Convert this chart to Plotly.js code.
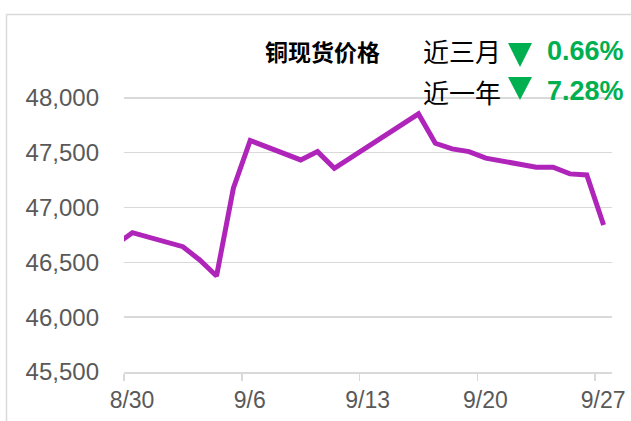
<!DOCTYPE html>
<html>
<head>
<meta charset="utf-8">
<script src="https://cdn.plot.ly/plotly-3.0.1.min.js"></script>
<style>html,body{margin:0;padding:0;background:#fff;}#chart{width:631px;height:421px;}</style>
</head>
<body>
<div id="chart"></div>
<script>
// ---- data ----
var dates = ['2024-08-29','2024-08-30','2024-09-02','2024-09-03','2024-09-04','2024-09-05','2024-09-06',
             '2024-09-09','2024-09-10','2024-09-11','2024-09-16','2024-09-17','2024-09-18','2024-09-19',
             '2024-09-20','2024-09-23','2024-09-24','2024-09-25','2024-09-26','2024-09-27'];
var prices = [46660, 46771, 46643, 46522, 46376, 47176, 47611,
              47434, 47510, 47358, 47854, 47586, 47535, 47510,
              47450, 47368, 47368, 47307, 47297, 46841];
var tickDates = ['2024-08-30','2024-09-06','2024-09-13','2024-09-20','2024-09-27'];
var tickLabels = ['8/30','9/6','9/13','9/20','9/27'];
var yTicks = [45500, 46000, 46500, 47000, 47500, 48000];
var titleText = '铜现货价格';
var statLabels = ['近三月','近一年'];
var statValues = ['0.66%','7.28%'];

// ---- layout helpers (pixel -> paper) ----
var L = 124, R = 612, T = 65, B = 372, W = 631, H = 421;
function px(x){ return (x - L) / (R - L); }
function py(y){ return (B - y) / (B - T); }
function shiftHours(d, h){ var t = new Date(d + 'T00:00:00Z'); t.setUTCHours(t.getUTCHours() + h);
  var s = t.toISOString(); return s.slice(0,10) + ' ' + s.slice(11,16); }

var grey = '#595959', lineGrey = '#d9d9d9', green = '#00B050', purple = '#AF25BA';
var cjk = '"Noto Sans CJK SC", "Noto Sans CJK JP", sans-serif';
var latin = '"Liberation Sans", Arial, sans-serif';

var trace = {
  x: dates, y: prices, type: 'scatter', mode: 'lines',
  line: {color: purple, width: 5}, hoverinfo: 'skip'
};

var annotations = [
  {text: '<b>' + titleText + '</b>', xref: 'paper', yref: 'paper', x: px(322), y: py(51),
   xanchor: 'center', yanchor: 'middle', showarrow: false, font: {family: cjk, size: 23, color: '#000'}},
];
var rowsY = [51, 91];
for (var i = 0; i < statLabels.length; i++) {
  annotations.push({text: statLabels[i], xref: 'paper', yref: 'paper', x: px(421), y: py(rowsY[i]),
    xanchor: 'left', yanchor: 'middle', showarrow: false, font: {family: cjk, size: 26, color: '#000'}});
  annotations.push({text: '<b>' + statValues[i] + '</b>', xref: 'paper', yref: 'paper', x: px(545), y: py(rowsY[i]),
    xanchor: 'left', yanchor: 'middle', showarrow: false, font: {family: latin, size: 27, color: green}});
}

var tri = [[43, 67], [77, 100]];
var shapes = [
  {type: 'line', xref: 'paper', yref: 'paper', x0: px(6.5), x1: px(660), y0: py(14.5), y1: py(14.5),
   line: {color: lineGrey, width: 1.5}},
  {type: 'line', xref: 'paper', yref: 'paper', x0: px(6.5), x1: px(6.5), y0: py(14.5), y1: py(440),
   line: {color: lineGrey, width: 1.5}}
];
for (var j = 0; j < tri.length; j++) {
  var t0 = tri[j][0], t1 = tri[j][1];
  shapes.push({type: 'path', xref: 'paper', yref: 'paper',
    path: 'M ' + px(508) + ' ' + py(t0) + ' L ' + px(532) + ' ' + py(t0) + ' L ' + px(520) + ' ' + py(t1) + ' Z',
    fillcolor: green, line: {width: 0}});
}

var layout = {
  width: W, height: H,
  margin: {l: L, r: W - R, t: T, b: H - B, pad: 0},
  paper_bgcolor: '#fff', plot_bgcolor: '#fff',
  showlegend: false,
  xaxis: {
    type: 'date',
    range: [shiftHours(tickDates[0], -12), shiftHours(tickDates[tickDates.length - 1], 12)],
    tickvals: tickDates.map(function(d){ return shiftHours(d, -12); }),
    ticktext: tickLabels,
    ticklabelshift: 8,
    ticks: 'outside', ticklen: 7, tickwidth: 1.5, tickcolor: lineGrey,
    showgrid: false, zeroline: false,
    showline: true, linecolor: lineGrey, linewidth: 1.5,
    tickfont: {family: latin, size: 23, color: grey},
    fixedrange: true
  },
  yaxis: {
    range: [45500, 48300],
    tickvals: yTicks,
    tickformat: ',d',
    ticks: '', ticklabelstandoff: 24,
    showgrid: true, gridcolor: lineGrey, gridwidth: 1.5,
    zeroline: false, showline: false,
    tickfont: {family: latin, size: 24, color: grey},
    fixedrange: true
  },
  annotations: annotations,
  shapes: shapes
};

Plotly.newPlot('chart', [trace], layout, {displayModeBar: false, staticPlot: true});
</script>
</body>
</html>
